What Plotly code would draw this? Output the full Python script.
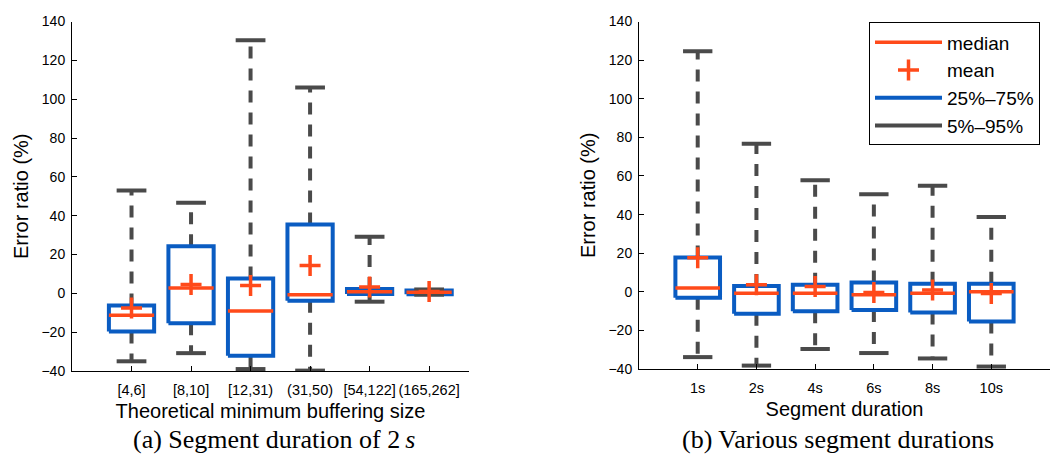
import plotly.graph_objects as go

# ---- data -----------------------------------------------------------------
# (a) error ratio vs theoretical minimum buffering size, 2 s segments
cats_a = ["[4,6]", "[8,10]", "[12,31)", "(31,50)", "[54,122]", "(165,262]"]
p5_a = [-35.0, -30.8, -39.0, -39.8, -4.3, -0.7]
q1_a = [-19.6, -15.4, -32.2, -3.8, -0.3, -0.5]
median_a = [-11.3, 2.8, -9.1, -0.7, 0.8, 0.5]
q3_a = [-6.3, 24.2, 7.6, 35.5, 2.2, 1.5]
p95_a = [53.0, 46.6, 130.3, 106.0, 29.2, 2.0]
mean_a = [-7.6, 4.6, 4.0, 14.4, 3.3, 1.0]

# (b) error ratio for various segment durations
cats_b = ["1s", "2s", "4s", "6s", "8s", "10s"]
p5_b = [-33.8, -38.2, -29.6, -31.7, -34.5, -38.7]
q1_b = [-3.0, -11.4, -10.0, -9.4, -10.7, -15.4]
median_b = [2.0, -0.7, -0.7, -1.5, -0.7, 0.0]
q3_b = [17.8, 3.0, 3.7, 4.9, 4.2, 4.2]
p95_b = [124.6, 76.7, 57.8, 50.6, 54.9, 38.7]
mean_b = [17.6, 3.7, 2.8, -0.3, 1.0, -0.8]

y_ticks = [-40, -20, 0, 20, 40, 60, 80, 100, 120, 140]

# ---- styling --------------------------------------------------------------
ORANGE = "#ff4a1a"
BLUE = "#0a5cc2"
GRAY = "#4a4a4a"
SANS = "Liberation Sans, Arial, sans-serif"
SERIF = "Liberation Serif, Times New Roman, serif"
BOX_HALF = 0.38
CAP_HALF = 0.25

fig = go.Figure()


def add_panel(xref, yref, p5, q1, med, q3, p95, mean, show_legend):
    xs = list(range(1, len(med) + 1))
    wx, wy, cx, cy, bx, by, mx, my = [], [], [], [], [], [], [], []
    for i, x in enumerate(xs):
        # whiskers from the box edges out to the 5th / 95th percentiles
        wx += [x, x, None, x, x, None]
        wy += [q3[i], p95[i], None, q1[i], p5[i], None]
        # caps at the percentile ends
        cx += [x - CAP_HALF, x + CAP_HALF, None, x - CAP_HALF, x + CAP_HALF, None]
        cy += [p95[i], p95[i], None, p5[i], p5[i], None]
        # interquartile box outline
        bx += [x - BOX_HALF, x + BOX_HALF, x + BOX_HALF, x - BOX_HALF, x - BOX_HALF, None]
        by += [q1[i], q1[i], q3[i], q3[i], q1[i], None]
        # median bar
        mx += [x - BOX_HALF, x + BOX_HALF, None]
        my += [med[i], med[i], None]
    common = dict(xaxis=xref, yaxis=yref, mode="lines", hoverinfo="skip")
    fig.add_trace(go.Scatter(x=wx, y=wy, line=dict(color=GRAY, width=4, dash="12px,10px"),
                             showlegend=False, **common))
    fig.add_trace(go.Scatter(x=bx, y=by, line=dict(color=BLUE, width=4),
                             name="25%\u201375%", legendrank=3, showlegend=show_legend, **common))
    fig.add_trace(go.Scatter(x=cx, y=cy, line=dict(color=GRAY, width=4),
                             name="5%\u201395%", legendrank=4, showlegend=show_legend, **common))
    fig.add_trace(go.Scatter(x=mx, y=my, line=dict(color=ORANGE, width=3.5),
                             name="median", legendrank=1, showlegend=show_legend, **common))
    fig.add_trace(go.Scatter(x=xs, y=mean, xaxis=xref, yaxis=yref, mode="markers",
                             marker=dict(symbol="cross-thin", size=15,
                                         line=dict(color=ORANGE, width=3.5)),
                             name="mean", legendrank=2, showlegend=show_legend,
                             hoverinfo="skip"))


add_panel("x", "y", p5_a, q1_a, median_a, q3_a, p95_a, mean_a, False)
add_panel("x2", "y2", p5_b, q1_b, median_b, q3_b, p95_b, mean_b, True)

W, H = 1051, 463

axis_common = dict(showline=True, linecolor="black", linewidth=1, ticks="inside",
                   ticklen=5, tickcolor="black", showgrid=False, zeroline=False)
x_common = dict(tickfont=dict(family=SANS, size=14.5, color="black"),
                ticklabelstandoff=6, **axis_common)
y_common = dict(tickfont=dict(family=SANS, size=14, color="black"),
                ticklabelstandoff=3, range=[-40, 140], tickvals=y_ticks, **axis_common)
title_font = dict(family=SANS, size=20, color="black")

fig.update_layout(
    width=W, height=H,
    margin=dict(l=0, r=0, t=0, b=0),
    paper_bgcolor="white", plot_bgcolor="white",
    font=dict(family=SANS, color="black"),
    xaxis=dict(domain=[72 / W, 469 / W], range=[0, 6.67], anchor="y",
               tickvals=list(range(1, 7)), ticktext=cats_a,
               title=dict(text="Theoretical minimum buffering size", font=title_font, standoff=6),
               **x_common),
    yaxis=dict(domain=[1 - 376 / H, 1 - 14 / H], anchor="x",
               title=dict(text="Error ratio (%)", font=title_font, standoff=7),
               **y_common),
    xaxis2=dict(domain=[639 / W, 1050 / W], range=[0, 7], anchor="y2",
                tickvals=list(range(1, 7)), ticktext=cats_b,
                title=dict(text="Segment duration", font=title_font, standoff=6),
                **x_common),
    yaxis2=dict(domain=[1 - 374 / H, 1 - 14 / H], anchor="x2",
                title=dict(text="Error ratio (%)", font=title_font, standoff=7),
                **y_common),
    legend=dict(x=869 / W, y=1 - 15 / H, xanchor="left", yanchor="top",
                bordercolor="black", borderwidth=1, bgcolor="white",
                font=dict(family=SANS, size=19, color="black"),
                itemwidth=67, entrywidth=100, tracegroupgap=0),
    annotations=[
        dict(text="(a) Segment duration of 2\u2009<i>s</i>", x=274 / W, y=1 - 447 / H,
             xref="paper", yref="paper", xanchor="center", yanchor="middle",
             showarrow=False, font=dict(family=SERIF, size=26, color="black")),
        dict(text="(b) Various segment durations", x=838 / W, y=1 - 447 / H,
             xref="paper", yref="paper", xanchor="center", yanchor="middle",
             showarrow=False, font=dict(family=SERIF, size=26, color="black")),
    ],
)

fig.write_html("out.html")
